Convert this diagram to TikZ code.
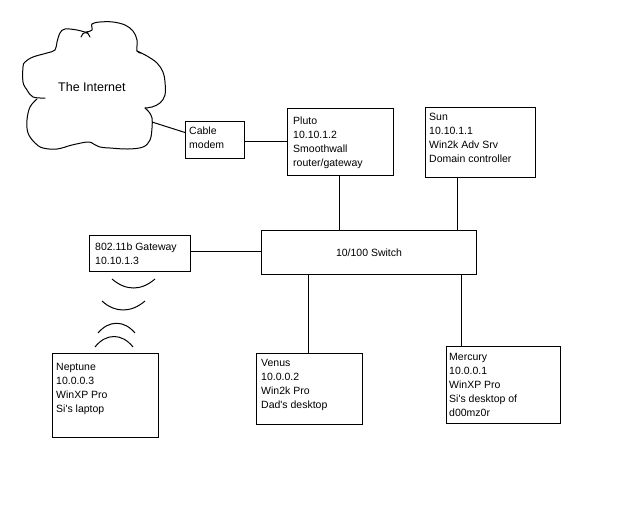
\documentclass[tikz,border=0pt]{standalone}
\usepackage{fontspec}
\setmainfont{Liberation Sans}[Ligatures=TeXOff]
\begin{document}
\begin{tikzpicture}[x=1pt,y=-1pt,
  box/.style={draw, line width=1pt, inner sep=0pt, anchor=north west},
  txt/.style={inner sep=0pt, anchor=north west, align=left, font=\fontsize{10.5}{14}\selectfont},
  wire/.style={line width=1pt},
  cloudline/.style={line width=1pt, line join=round, line cap=round}]
\useasboundingbox[fill=white] (0,0) rectangle (640,512);
% cloud
\draw[cloudline] plot[smooth, tension=0.6] coordinates {(88,33) (77,30) (65,29) (60,33) (57,42) (55,50) (47,53) (33,57) (25,62) (23,67) (23,82) (27,90) (33,97) (45,98)};
\draw[cloudline] plot[smooth, tension=0.6] coordinates {(86,32) (92,30) (92,24) (100,22) (113,22) (125,25) (133,31) (137,40) (137,51) (141,53)};
\draw[cloudline] plot[smooth, tension=0.6] coordinates {(137,51) (147,56) (157,63) (163,72) (165,82) (165,95) (160,103) (152,107) (145,108)};
\draw[cloudline] plot[smooth, tension=0.6] coordinates {(145,108) (149,112) (152,118) (152,128) (150,140) (143,147) (128,149) (110,148) (100,147) (92,143)};
\draw[cloudline] plot[smooth, tension=0.6] coordinates {(92,143) (87,142) (72,145) (57,149) (43,148) (35,143) (28,133) (27,120) (30,107) (37,99)};
\draw[cloudline] (81,37) .. controls (83,31) and (88,31) .. (90,37);
\node[inner sep=0pt, anchor=north west, font=\fontsize{12.5}{15}\selectfont] (inet) at (58,82) {The Internet};
\coordinate (cloudpt) at (152,122);
% boxes
\node[box, minimum width=59pt, minimum height=37pt] (cable) at (185,121) {};
\node[txt] at (189,127) {Cable\\modem};
\node[box, minimum width=106pt, minimum height=67pt] (pluto) at (287,108) {};
\node[txt] at (293,117) {Pluto\\10.10.1.2\\Smoothwall\\router/gateway};
\node[box, minimum width=110pt, minimum height=70pt] (sun) at (425,107) {};
\node[txt] at (429,113) {Sun\\10.10.1.1\\Win2k Adv Srv\\Domain controller};
\node[box, minimum width=215pt, minimum height=44pt, font=\fontsize{10.5}{14}\selectfont] (switch) at (261,230) {10/100 Switch};
\node[box, minimum width=101pt, minimum height=36pt] (gw) at (89,235) {};
\node[txt] at (95,243) {802.11b Gateway\\10.10.1.3};
\node[box, minimum width=106pt, minimum height=84pt] (neptune) at (52,353) {};
\node[txt] at (56,363) {Neptune\\10.0.0.3\\WinXP Pro\\Si's laptop};
\node[box, minimum width=106pt, minimum height=71pt] (venus) at (256,353) {};
\node[txt] at (261,359) {Venus\\10.0.0.2\\Win2k Pro\\Dad's desktop};
\node[box, minimum width=114pt, minimum height=77pt] (mercury) at (446,346) {};
\node[txt] at (449,353) {Mercury\\10.0.0.1\\WinXP Pro\\Si's desktop of\\d00mz0r};
% connectors
\draw[wire] (cloudpt) -- ([yshift=7.5pt]cable.west);
\draw[wire] (cable.east |- 0,141) -- (pluto.west |- 0,141);
\draw[wire] (pluto.south -| 339,0) -- (switch.north -| 339,0);
\draw[wire] (sun.south -| 457,0) -- (switch.north -| 457,0);
\draw[wire] (gw.east |- 0,251) -- (switch.west |- 0,251);
\draw[wire] (switch.south -| 308,0) -- (venus.north -| 308,0);
\draw[wire] (switch.south -| 461,0) -- (mercury.north -| 461,0);
% wireless arcs
\draw[wire] (112,279) .. controls (126,291) and (141,291) .. (155,279);
\draw[wire] (102,301) .. controls (115,313) and (131,313) .. (145,301);
\draw[wire] (98,333) .. controls (109,320) and (124,320) .. (135,333);
\draw[wire] (95,347) .. controls (106,333) and (122,333) .. (133,347);
\end{tikzpicture}
\end{document}
